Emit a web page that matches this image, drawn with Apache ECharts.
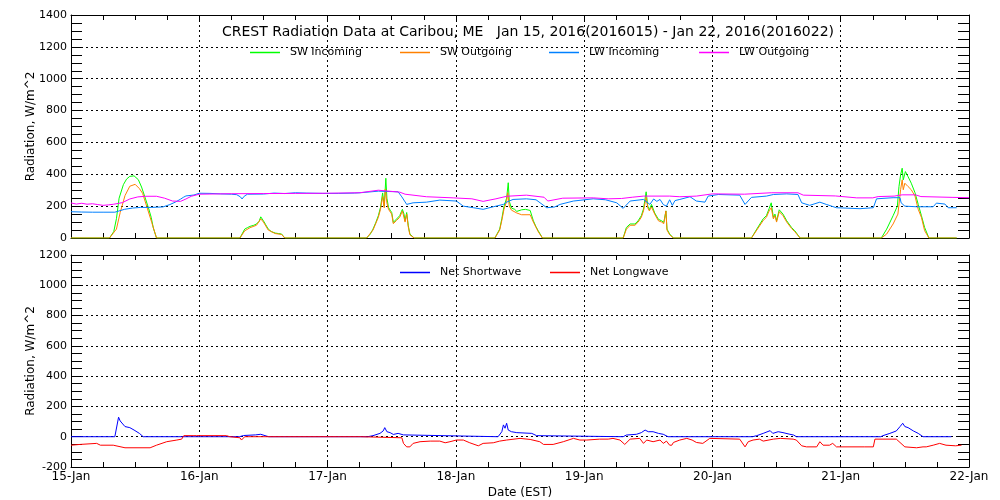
<!DOCTYPE html>
<html><head><meta charset="utf-8">
<script src="https://cdn.jsdelivr.net/npm/echarts@6/dist/echarts.min.js"></script>
<style>html,body{margin:0;padding:0;background:#fff}#c{width:1000px;height:500px}</style>
</head><body><div id="c"></div>
<script>
// x = hours since 15-Jan 00:00 EST
const dayLabels = ['15-Jan','16-Jan','17-Jan','18-Jan','19-Jan','20-Jan','21-Jan','22-Jan'];
const titleText = 'CREST Radiation Data at Caribou, ME   Jan 15, 2016(2016015) - Jan 22, 2016(2016022)';
const topNames = ['SW Incoming','SW Outgoing','LW Incoming','LW Outgoing'];
const bottomNames = ['Net Shortwave','Net Longwave'];

const swIncoming = [[0,0],[7.2,0],[8.0,40],[8.5,121],[9.0,250],[9.8,335],[10.4,370],[11.0,387],[11.8,390],[12.6,366],[13.2,320],[13.8,260],[14.5,188],[15.0,130],[15.4,63],[16.0,0],
 [31.6,0],[32.5,56],[33.0,65],[33.5,73],[34.2,80],[34.7,88],[35.2,105],[35.5,133],[36.0,108],[36.4,85],[36.9,56],[37.5,40],[38.2,31],[38.8,28],[39.4,25],[40.0,0],
 [55.3,0],[56.0,25],[56.5,56],[57.0,95],[57.5,140],[57.9,192],[58.3,283],[58.6,200],[58.9,375],[59.1,250],[59.4,192],[59.7,175],[60.0,160],[60.3,98],[60.6,110],[60.9,119],[61.2,130],[61.5,140],[61.8,165],[62.0,180],[62.3,150],[62.5,108],[62.8,160],[63.1,77],[63.4,25],[64.2,0],
 [79.3,0],[80.2,56],[80.6,121],[81.0,198],[81.5,250],[81.8,347],[82.0,230],[82.4,188],[83.0,180],[83.4,167],[84.3,177],[85.0,180],[85.9,173],[86.5,108],[87.0,70],[87.4,46],[88.2,0],
 [103.3,0],[103.9,66],[104.6,88],[105.5,88],[106.1,108],[106.7,140],[107.1,182],[107.6,290],[107.9,200],[108.2,177],[108.6,211],[109.2,157],[109.9,117],[110.5,108],[110.9,98],[111.3,170],[111.5,56],[112.0,25],[112.7,0],
 [127.3,0],[128.3,56],[129.5,121],[130.1,140],[130.6,184],[131.0,221],[131.4,129],[131.7,150],[132.0,108],[132.5,177],[133.2,150],[133.9,108],[134.8,66],[135.4,46],[136.4,0],
 [151.6,0],[152.6,56],[153.8,140],[154.6,200],[154.9,323],[155.2,396],[155.5,438],[155.7,365],[156.1,417],[156.6,385],[157.2,344],[157.9,284],[158.5,211],[159.1,140],[159.7,66],[160.5,0],[165.7,0]];

const swOutgoing = [[0,0],[7.2,0],[8.5,56],[9.2,160],[10.1,266],[11.0,325],[12.0,337],[12.8,310],[13.4,280],[14.2,195],[15.1,98],[16.0,0],
 [31.6,0],[32.5,45],[33.5,65],[34.7,80],[35.5,120],[36.0,100],[36.9,50],[38.2,28],[39.4,22],[40.0,0],
 [55.3,0],[56.5,50],[57.5,130],[57.9,180],[58.3,260],[58.6,190],[58.8,307],[59.1,220],[59.4,180],[60.0,150],[60.3,90],[60.9,110],[61.5,130],[62.0,170],[62.5,100],[62.8,150],[63.1,70],[63.4,20],[64.2,0],
 [79.3,0],[80.2,50],[80.6,110],[81.0,180],[81.5,230],[81.7,284],[82.0,200],[82.4,175],[83.4,157],[84.3,146],[85.9,146],[86.5,100],[87.4,40],[88.2,0],
 [103.3,0],[103.9,55],[104.6,80],[105.5,80],[106.1,100],[106.7,130],[107.1,170],[107.6,255],[107.9,190],[108.2,170],[108.6,195],[109.2,150],[109.9,108],[110.5,100],[110.9,90],[111.3,170],[111.5,50],[112.0,20],[112.7,0],
 [127.3,0],[128.3,50],[129.5,110],[130.1,130],[130.6,170],[131.0,190],[131.4,120],[131.7,140],[132.0,100],[132.5,165],[133.2,140],[133.9,100],[134.8,60],[135.4,40],[136.4,0],
 [151.6,0],[152.6,25],[153.8,88],[154.7,150],[155.2,303],[155.5,365],[155.7,303],[156.0,344],[156.6,323],[157.2,303],[157.9,263],[158.5,180],[159.1,129],[159.7,46],[160.5,0],[165.7,0]];

const lwIncoming = [[0,165],[2,163],[4,162],[6,162],[8.2,162],[9,170],[10,180],[11.5,188],[13,192],[15,192],[17.2,195],[18.5,210],[19.5,225],[20.5,244],[21,255],[21.5,264],[23,270],[24,281],[26,280],[28,277],[30,275],[31,272],[31.7,258],[32,245],[32.4,262],[33,275],[36,276],[38,282],[40,279],[42,284],[44,282],[47,280],[50,280],[53,282],[54.1,284],[57.5,294],[61.2,290],[61.9,258],[62.8,211],[64.0,221],[66.5,225],[69.0,238],[72.1,232],[73.4,200],[75.3,190],[77.1,180],[79.0,196],[80.9,211],[81.5,225],[82.7,242],[85.2,246],[87.0,240],[89.0,190],[90.5,195],[91.5,211],[94.0,232],[97.7,246],[100,240],[102.1,221],[103.3,186],[104.6,232],[107.1,242],[108.3,211],[109.0,245],[109.6,230],[110.2,242],[110.8,210],[111.4,200],[112.0,240],[112.5,205],[113.0,235],[113.9,242],[115.8,259],[117.0,232],[118.6,225],[119.2,263],[121.1,273],[125.1,269],[126.1,211],[127.3,255],[130.1,263],[131.4,273],[133.9,277],[136.0,273],[136.7,221],[138.2,205],[140.1,225],[141.3,211],[143.2,190],[147.6,184],[150.1,190],[150.7,246],[153.8,253],[155.1,253],[155.3,221],[156.0,200],[158.2,196],[161.3,196],[161.9,219],[163.5,213],[164.1,190],[165.7,190]];

const lwOutgoing = [[0,220],[1,213],[2,218],[3,212],[4,215],[5,210],[6,205],[7,208],[8,212],[9.6,222],[11,245],[12.5,258],[14,262],[16,262],[17.5,250],[19,232],[20.5,230],[21.5,245],[22.5,262],[24,275],[26,276],[30,278],[36,279],[42,280],[48,281],[54,284],[57.5,300],[61.5,288],[62.5,275],[66.5,259],[71.5,252],[75,246],[77.1,230],[79.5,246],[81.5,262],[85.2,269],[88.5,256],[89.2,232],[92,250],[97.7,252],[100.5,246],[103,248],[105,256],[107.1,263],[112,263],[113.9,259],[117,263],[120,277],[126,275],[131,284],[136,284],[137,269],[143,264],[147,252],[150,252],[151,260],[154,263],[155.5,271],[158,271],[159,260],[165,255],[168,253]];

const netShortwave = [[0,0],[8.2,0],[8.9,129],[9.2,104],[10.1,67],[11.0,60],[11.8,44],[12.8,22],[13.5,0],
 [31.5,0],[32.3,8],[34.5,12],[35.5,16],[36.5,5],[37,0],
 [55.5,0],[56.5,7],[57.8,22],[58.4,38],[58.7,60],[59.1,33],[59.7,27],[60.3,15],[61.2,22],[62.2,12],[62.5,0],
 [79.9,0],[80.6,33],[80.9,78],[81.2,56],[81.5,89],[81.8,44],[82.4,33],[83.4,27],[86.2,22],[87.1,7],[87.4,0],
 [103.3,0],[103.9,11],[105.8,16],[106.7,27],[107.4,44],[108.0,33],[108.9,33],[109.9,22],[110.8,16],[111.7,0],
 [127.5,0],[128.3,7],[129.5,22],[130.8,40],[131.3,22],[132.3,33],[133.2,27],[134.5,16],[135.2,11],[135.7,0],
 [151.5,0],[151.9,7],[153.2,22],[154.4,38],[155.1,67],[155.6,89],[156.0,67],[156.6,60],[157.6,38],[158.5,22],[159.4,0],[164.7,0]];

const netLongwave = [[0,-56],[1.7,-51],[4.8,-44],[5.5,-56],[7.9,-56],[10.1,-73],[14.8,-73],[16.0,-56],[17.9,-33],[19.8,-22],[20.7,-16],[21.1,7],[23.0,7],[23.3,-5],[23.5,7],[29.1,7],[29.7,0],[31.6,-7],[31.9,-22],[32.5,0],[40,0],[50,0],[54.1,0],[61.9,-7],[62.2,-44],[62.8,-67],[63.4,-67],[64.0,-44],[65.3,-33],[67.2,-29],[69.0,-29],[70.0,-40],[70.9,-33],[72.1,-22],[73.4,-22],[74.6,-40],[76.2,-60],[77.1,-44],[79.0,-40],[80.2,-29],[81.5,-22],[84.0,-11],[85.9,-18],[87.7,-33],[88.4,-51],[90.2,-51],[92.1,-33],[94.0,-11],[95.2,-22],[96.5,-22],[98.9,-16],[100.5,-16],[101.4,-11],[102.7,-22],[103.6,-51],[104.6,-16],[106.4,-11],[107.1,-44],[107.7,-22],[108.9,-33],[110.2,-22],[110.8,-44],[111.1,-56],[111.4,-29],[112.0,-56],[112.4,-56],[112.7,-38],[113.0,-33],[113.9,-22],[115.2,-11],[116.2,-22],[117.0,-38],[118.2,-44],[118.8,-29],[119.5,-11],[125.1,-16],[126.1,-67],[126.7,-33],[127.6,-22],[128.8,-16],[129.5,-29],[131.4,-16],[132.7,-11],[135.1,-16],[135.7,-22],[136.7,-60],[137.6,-67],[139.5,-67],[140.1,-33],[140.7,-56],[141.9,-56],[142.5,-44],[143.2,-67],[148.5,-67],[150.1,-67],[150.4,-16],[154.4,-16],[156.0,-67],[158.2,-73],[159.4,-67],[160.0,-67],[161.3,-56],[162.5,-44],[163.7,-56],[165.5,-60],[166.6,-56]];

const FONT = 'DejaVu Sans';
const dotted = {color:'#000', width:1, type:[2,3]};
function xAx(grid, pos, labels, split){
  return {type:'value', gridIndex:grid, position:pos, min:0, max:168, interval:24,
    axisLine:{show:true, onZero:false, lineStyle:{color:'#000', width:1}},
    axisTick:{show:true, inside:true, length:5, lineStyle:{color:'#000'}},
    minorTick:{show:true, splitNumber:4, length:5, lineStyle:{color:'#000'}},
    axisLabel:{show:labels, color:'#000', fontFamily:FONT, fontSize:12, margin:4,
      formatter:v=>dayLabels[Math.round(v/24)]},
    splitLine:{show:split, lineStyle:dotted},
    name: labels ? 'Date (EST)' : '', nameLocation:'middle', nameGap:20,
    nameTextStyle:{color:'#000', fontFamily:FONT, fontSize:12}};
}
function yAx(grid, pos, min, max, labels){
  return {type:'value', gridIndex:grid, position:pos, min:min, max:max, interval:200,
    axisLine:{show:true, onZero:false, lineStyle:{color:'#000', width:1}},
    axisTick:{show:true, inside:true, length:11, lineStyle:{color:'#000'}},
    minorTick:{show:true, splitNumber:4, length:11, lineStyle:{color:'#000'}},
    axisLabel:{show:labels, color:'#000', fontFamily:FONT, fontSize:11, margin:4, formatter:v=>String(v)},
    splitLine:{show:labels, lineStyle:dotted},
    name: labels ? 'Radiation, W/m^2' : '', nameLocation:'middle', nameGap:34, nameMoveOverlap:false,
    nameTextStyle:{color:'#000', fontFamily:FONT, fontSize:12}};
}
function ln(name, data, color, xi, yi){
  return {name, type:'line', data, xAxisIndex:xi, yAxisIndex:yi, symbol:'none',
    lineStyle:{color, width:1}, itemStyle:{color}, silent:true};
}
function lg(name, left, top){
  return {data:[name], left, top, icon:'rect', itemWidth:30, itemHeight:1.5,
    textStyle:{color:'#000', fontFamily:FONT, fontSize:11, padding:[0,0,0,5]}};
}
const chart = echarts.init(document.getElementById('c'));
chart.setOption({
  animation:false,
  backgroundColor:'#fff',
  title:{text:titleText, left:217, top:20, textStyle:{color:'#000', fontFamily:FONT, fontSize:14, fontWeight:'normal'}},
  legend:[
    lg(topNames[0], 245, 42), lg(topNames[1], 395, 42), lg(topNames[2], 544, 42), lg(topNames[3], 694, 42),
    lg(bottomNames[0], 395, 262), lg(bottomNames[1], 545, 262)
  ],
  grid:[{left:71, right:31, top:15, height:223}, {left:71, right:31, top:255, height:212}],
  xAxis:[xAx(0,'bottom',false,true), xAx(0,'top',false,false), xAx(1,'bottom',true,true), xAx(1,'top',false,false)],
  yAxis:[yAx(0,'left',0,1400,true), yAx(0,'right',0,1400,false), yAx(1,'left',-200,1200,true), yAx(1,'right',-200,1200,false)],
  series:[
    ln('SW Incoming', swIncoming, '#00ff00', 0, 0),
    ln('SW Outgoing', swOutgoing, '#ff8000', 0, 0),
    ln('LW Incoming', lwIncoming, '#0080ff', 0, 0),
    ln('LW Outgoing', lwOutgoing, '#ff00ff', 0, 0),
    ln('Net Shortwave', netShortwave, '#0000ff', 2, 2),
    ln('Net Longwave', netLongwave, '#ff0000', 2, 2)
  ]
});
</script></body></html>
